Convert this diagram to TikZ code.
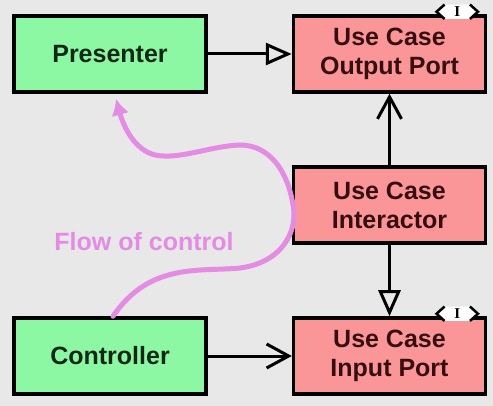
\documentclass[tikz,border=0pt]{standalone}
\usepackage{fontspec}
\setmainfont{Liberation Sans}
\newfontfamily\tagfont{Liberation Serif}
\usepackage{xcolor}
\usetikzlibrary{arrows.meta,calc}
\definecolor{bggray}{RGB}{232,232,232}
\definecolor{boxgreen}{RGB}{140,248,164}
\definecolor{boxred}{RGB}{250,150,152}
\definecolor{greentext}{RGB}{18,40,22}
\definecolor{redtext}{RGB}{55,14,16}
\definecolor{flowpink}{RGB}{228,140,228}

\begin{document}
\begin{tikzpicture}[x=1pt,y=-1pt,
  box/.style={draw=black,line width=3.5pt,minimum width=192pt,minimum height=76pt,
    align=center,font=\fontsize{25}{29}\selectfont\bfseries,inner sep=0pt},
  ctrlbox/.style={box,fill=boxgreen,text=greentext},
  portbox/.style={box,fill=boxred,text=redtext},
  ifacetag/.style={minimum width=25pt,minimum height=14pt,inner sep=0pt},
  ifacetext/.style={font=\tagfont\fontsize{15}{15}\selectfont\bfseries,inner sep=0pt},
  chevron/.style={line width=2.5pt,line join=miter},
  link/.style={line width=3pt},
  realizes/.style={link,-{Triangle[open,length=26pt,width=22pt]}},
  uses/.style={link,-{Straight Barb[length=22pt,width=24pt]}}]
  \fill[bggray] (0,0) rectangle (493,406);
  \useasboundingbox (0,0) rectangle (493,406);

  \node[ctrlbox] (presenter) at (110,54) {Presenter};
  \node[ctrlbox] (controller) at (110,356) {Controller};
  \node[portbox] (outport) at (389.5,54) {Use Case\\Output Port};
  \node[portbox] (interactor) at (389.5,205) {Use Case\\Interactor};
  \node[portbox] (inport) at (389.5,356) {Use Case\\Input Port};

  % interface tags on the ports
  \node[ifacetag] (outtag) at ([xshift=-30pt,yshift=2.5pt]outport.north east) {};
  \fill[white] (outtag.north west) -- ([xshift=-8pt]outtag.west) -- (outtag.south west)
    -- (outtag.south east) -- ([xshift=8pt]outtag.east) -- (outtag.north east) -- cycle;
  \draw[chevron] (outtag.north west) -- ([xshift=-8pt]outtag.west) -- (outtag.south west);
  \draw[chevron] (outtag.north east) -- ([xshift=8pt]outtag.east) -- (outtag.south east);
  \node[ifacetext] (outtagtext) at (outtag) {I};
  \node[ifacetag] (intag) at ([xshift=-30pt,yshift=2.5pt]inport.north east) {};
  \fill[white] (intag.north west) -- ([xshift=-8pt]intag.west) -- (intag.south west)
    -- (intag.south east) -- ([xshift=8pt]intag.east) -- (intag.north east) -- cycle;
  \draw[chevron] (intag.north west) -- ([xshift=-8pt]intag.west) -- (intag.south west);
  \draw[chevron] (intag.north east) -- ([xshift=8pt]intag.east) -- (intag.south east);
  \node[ifacetext] (intagtext) at (intag) {I};

  \draw[realizes] (presenter) -- (outport);
  \draw[uses] (controller) -- (inport);
  \draw[uses] (interactor) -- (outport);
  \draw[realizes] (interactor) -- (inport);

  % flow of control
  \coordinate (flowstart) at ([xshift=3pt]controller.north);
  \coordinate (flowend) at (116,99);
  \draw[flowpink,line width=5pt,line cap=round,-{Latex[length=16pt,width=18pt]}]
    (flowstart) .. controls (150,262) and (200,272) .. (240,268)
    .. controls (285,262) and (298,228) .. (293,205)
    .. controls (288,172) and (270,145) .. (240,145)
    .. controls (210,146) and (180,160) .. (155,155)
    .. controls (135,150) and (124,128) .. (flowend);
  \node[text=flowpink,font=\fontsize{25}{29}\selectfont\bfseries] (flowlabel) at (144,242) {Flow of control};
\end{tikzpicture}
\end{document}
